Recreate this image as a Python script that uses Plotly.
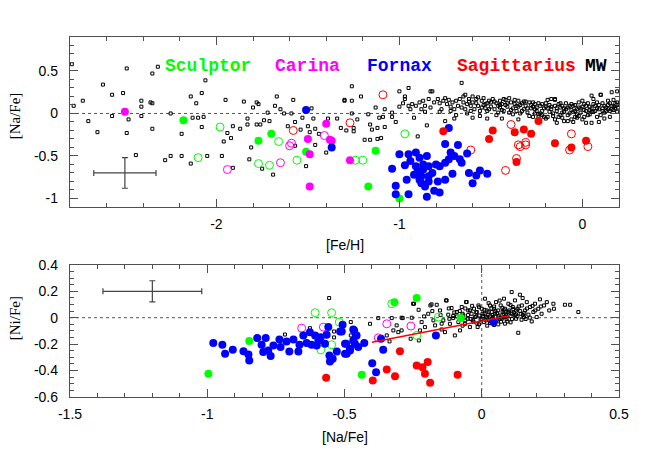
import plotly.graph_objects as go

# ---------------- TOP PANEL DATA: [Na/Fe] vs [Fe/H] ----------------
mw_top = [(-2.79,0.58),(-2.78,0.09),(-2.73,0.15),(-2.70,-0.09),(-2.65,-0.22),(-2.62,0.34),(-2.57,0.22),(-2.57,-0.03),
(-2.51,0.24),(-2.49,0.53),(-2.49,-0.23),(-2.48,-0.07),(-2.44,-0.49),(-2.41,0.15),(-2.41,0.08),(-2.41,-0.03),(-2.36,0.13),
(-2.35,0.12),(-2.35,0.47),(-2.35,-0.18),(-2.32,0.55),(-2.28,-0.55),(-2.25,0.0),(-2.25,-0.50),(-2.19,-0.24),(-2.19,-0.50),
(-2.14,0.20),(-2.14,-0.59),(-2.13,-0.05),(-2.11,0.12),(-2.10,-0.05),(-2.08,0.24),(-2.08,-0.16),(-2.07,-0.04),(-2.06,0.39),
(-2.05,-0.50),(-1.97,-0.50),(-1.96,-0.33),(-1.95,0.16),(-1.94,-0.23),(-1.92,-0.29),(-1.91,-0.15),(-1.91,-0.64),(-1.87,-0.18),
(-1.85,0.14),(-1.83,-0.06),(-1.83,-0.13),(-1.82,-0.54),(-1.81,-0.40),(-1.80,0.07),(-1.78,-0.13),(-1.78,0.13),(-1.77,0.11),
(-1.76,-0.13),(-1.75,-0.65),(-1.74,-0.08),(-1.72,0.01),(-1.71,-0.09),(-1.69,-0.72),(-1.68,0.09),(-1.67,0.20),(-1.65,0.05),
(-1.63,0.0),(-1.61,-0.15),(-1.59,0.0),(-1.58,0.16),(-1.57,-0.10),(-1.57,-0.38),(-1.54,-0.19),(-1.53,-0.05),(-1.51,-0.62),
(-1.50,-0.15),(-1.49,-0.22),(-1.48,0.06),(-1.47,-0.06),(-1.46,-0.37),(-1.46,-0.18),(-1.44,-0.24),(-1.40,-0.46),(-1.39,-0.06),
(-1.34,-0.06),(-1.32,-0.17),(-1.30,0.15),(-1.29,-0.20),(-1.26,0.32),(-1.26,0.15),(-1.26,0.0),(-1.25,-0.21),
(-1.30,0.16),(-1.25,-0.17),(-1.23,-0.07),(-1.21,0.20),(-1.17,-0.01),(-1.16,-0.13),(-1.15,-0.19),(-1.19,-0.31),(-1.16,-0.31),
(-1.12,-0.30),(-1.10,-0.29),(-1.13,0.07),(-1.11,-0.05),(-1.09,-0.04),(-1.08,0.05),(-1.12,-0.17),(-1.08,-0.16),(-1.04,-0.04),
(-1.04,0.01),(-1.00,0.26),(-1.00,0.08),(-0.97,0.20),(-0.97,0.17),(-0.95,0.09),(-0.95,0.30),(-0.94,0.05),(-0.93,0.11),
(-0.91,0.09),(-0.90,-0.27),(-0.89,0.13),(-0.88,0.05),(-0.87,0.15),(-0.86,0.09),(-0.85,-0.14),(-0.84,0.17),(-0.83,0.26),
(-0.83,0.07),(-0.81,0.13),(-0.79,0.17),(-0.78,0.12),(-0.77,0.05),(-0.76,0.15),(-0.75,-0.09),(-0.75,0.18),(-0.74,0.11),
(-0.73,0.16),(-0.72,0.03),(-0.71,0.13),(-0.70,0.05),(-0.69,0.15),(-0.68,0.09),(-0.67,0.17),(-0.66,0.36),(-0.66,0.07),
(-0.65,0.20),(-0.65,0.13),(-0.64,0.05),(-0.64,0.22),(-0.63,0.11),(-0.62,0.17),(-0.61,0.03),(-0.61,0.09),(-0.60,0.20),
(-0.60,0.13),(-0.59,0.05),(-0.58,0.17),(-0.57,0.09),(-0.56,0.03),(-0.55,0.15),(-0.55,0.07),(-0.54,0.18),(-0.53,0.11),
(-0.52,0.03),(-0.51,0.15),(-0.50,0.08),(-0.49,0.17),(-0.48,0.05),(-0.47,0.12),(-0.46,0.01),(-0.45,0.15),(-0.45,0.07),
(-0.44,0.11),(-0.43,0.03),(-0.42,0.16),(-0.41,0.08),(-0.40,0.01),(-0.39,0.13),(-0.38,0.06),(-0.37,0.11),(-0.36,0.03),
(-0.35,0.15),(-0.35,0.08),(-0.34,0.0),(-0.33,0.12),(-0.32,0.05),(-0.31,0.09),(-0.30,0.01),(-0.29,0.13),(-0.28,0.06),
(-0.27,-0.04),(-0.26,0.11),(-0.25,0.03),(-0.25,0.07),(-0.24,-0.01),(-0.23,0.09),(-0.22,0.03),(-0.21,-0.04),(-0.20,0.08),
(-0.19,0.16),(-0.18,0.02),(-0.17,0.05),(-0.16,-0.03),(-0.15,0.09),(-0.15,0.16),(-0.14,0.03),(-0.13,-0.04),(-0.12,0.07),
(-0.11,0.01),(-0.10,-0.09),(-0.09,0.05),(-0.08,-0.02),(-0.07,0.09),(-0.06,-0.07),(-0.05,0.02),(-0.05,0.09),(-0.04,-0.04),
(-0.03,0.05),(-0.02,0.13),(-0.01,0.01),(0.0,0.08),(0.01,-0.04),(0.02,0.03),(0.03,0.12),(0.04,-0.01),(0.05,0.06),
(0.06,0.17),(0.06,0.02),(0.07,0.09),(0.08,-0.04),(0.09,0.05),(0.10,0.22),(0.11,0.12),(0.12,0.01),(0.13,0.07),(0.14,0.15),
(0.15,0.03),(0.16,0.09),(0.16,0.05),(0.17,0.16),(0.18,0.09),(0.19,0.26),(0.19,0.13),
(-0.82,0.26),(-0.15,-0.07),(-0.14,-0.11),(-0.08,-0.09),(-0.05,-0.10),(-0.03,-0.05),(0.02,-0.11),(0.05,-0.11),(0.09,-0.10),
(-0.19,-0.04),(-0.24,-0.04),(0.05,0.21),(0.10,0.22),(0.16,0.25),(-0.15,0.17),(-0.17,0.17),(0.0,0.15),
(-0.78,0.02),(-0.72,0.08),(-0.69,-0.02),(-0.63,0.0),(-0.58,0.12),(-0.56,-0.03),(-0.53,0.06),(-0.50,0.13),(-0.47,-0.02),
(-0.44,0.04),(-0.42,0.10),(-0.40,0.18),(-0.38,-0.01),(-0.36,0.09),(-0.33,0.03),(-0.31,0.14),(-0.29,-0.03),(-0.27,0.08),
(-0.24,0.12),(-0.22,-0.02),(-0.21,0.06),(-0.18,0.10),(-0.16,0.0),(-0.13,0.11),(-0.12,-0.02),(-0.10,0.06),(-0.09,0.12),
(-0.07,0.0),(-0.06,0.04),(-0.04,0.10),(-0.02,-0.03),(-0.01,0.06),(0.01,0.11),(0.03,-0.02),(0.04,0.08),(0.07,0.03),
(0.08,0.13),(0.10,-0.02),(0.11,0.06),(0.13,0.03),(0.14,0.10),(0.17,0.04),(0.18,0.12),(-0.86,0.02),(-0.92,-0.05),
(-0.98,0.12),(-1.02,-0.10),(-0.70,-0.06),(-0.60,-0.05),(-0.52,-0.06),(-0.44,-0.06),(-0.35,-0.07),(-0.26,0.0),(-0.20,-0.06),
(-0.11,-0.05),(0.00,-0.07),(0.12,-0.06),(0.15,-0.04),(0.19,0.02),(0.195,0.07),
(-0.62,0.14),(-0.57,0.19),(-0.54,0.10),(-0.51,0.05),(-0.48,0.14),(-0.46,0.09),(-0.43,0.17),(-0.41,0.12),(-0.39,0.04),
(-0.37,0.16),(-0.34,0.10),(-0.32,0.14),(-0.30,0.06),(-0.28,0.10),(-0.26,0.05),(-0.23,0.00),(-0.22,0.11),(-0.19,0.06),
(-0.17,0.08),(-0.14,0.06),(-0.12,0.12),(-0.10,0.02),(-0.08,0.07),(-0.06,0.11),(-0.04,0.03),(-0.02,0.07),(0.01,0.04),
(0.02,0.09),(0.05,0.02),(0.06,0.11),(0.08,0.06),(0.09,0.10),(0.11,0.03),(0.12,0.09),(0.14,0.05),(0.15,0.12),(0.17,0.08),
(0.18,0.06),(0.19,0.10),(-0.03,-0.01),(0.04,0.04),(-0.11,0.09),(-0.20,0.12),(-0.27,0.13),(-0.45,0.10),(-0.52,0.12)]

scl_fill_top = [(-2.18,-0.08),(-1.77,-0.32),(-1.70,-0.24),(-1.51,-0.45),(-1.13,-0.44),(-1.17,-0.86),(-1.00,-1.00)]
scl_open_top = [(-1.98,-0.16),(-2.10,-0.52),(-1.77,-0.59),(-1.71,-0.61),(-1.66,-0.33),(-1.56,-0.55),(-1.24,-0.55),
                (-1.20,-0.55),(-0.97,-0.24)]
car_fill_top = [(-2.50,0.02),(-1.50,-0.30),(-1.49,-0.48),(-1.49,-0.86),(-1.40,-0.12),(-1.38,-0.31),(-1.37,-0.32),(-1.27,-0.55)]
car_open_top = [(-1.94,-0.66),(-1.60,-0.38),(-1.59,-0.35),(-1.65,-0.58),(-1.41,-0.26)]
for_fill_top = [(-1.51,0.04),(-1.37,-0.40),(-0.73,-0.17),(-0.75,-0.36),(-0.68,-0.37),
(-1.00,-0.48),(-0.95,-0.48),(-0.91,-0.46),(-0.89,-0.52),(-0.85,-0.50),(-0.94,-0.56),(-0.97,-0.61),(-1.04,-0.65),
(-0.91,-0.62),(-0.87,-0.60),(-0.84,-0.62),(-0.80,-0.60),(-0.78,-0.62),(-0.75,-0.58),(-0.72,-0.46),(-0.70,-0.50),
(-0.73,-0.54),(-0.67,-0.54),(-0.66,-0.58),(-0.63,-0.47),(-0.62,-0.70),(-0.58,-0.73),(-0.56,-0.67),(-0.52,-0.71),
(-0.60,-0.82),(-1.02,-0.85),(-1.02,-0.95),(-0.95,-0.95),(-0.85,-0.98),(-0.78,-0.93),(-0.81,-0.91),(-0.79,-0.80),
(-0.75,-0.78),(-0.71,-0.71),(-0.88,-0.74),(-0.88,-0.82),(-0.86,-0.86),(-0.89,-0.78),(-0.92,-0.72),(-0.96,-0.78),
(-0.84,-0.80),(-0.87,-0.66),(-0.82,-0.70),(-0.90,-0.68),(-0.84,-0.74)]
sgr_fill_top = [(-0.76,-0.21),(-0.49,-0.20),(-0.51,-0.30),(-0.37,-0.22),(-0.32,-0.19),(-0.28,-0.24),(-0.24,-0.09),
                (-0.36,-0.57),(-0.15,-0.35),(-0.06,-0.40),(0.02,-0.32)]
sgr_open_top = [(-1.58,-0.20),(-1.27,-0.11),(-1.09,0.22),(-0.61,-0.43),(-0.39,-0.13),(-0.35,-0.37),(-0.34,-0.39),
                (-0.31,-0.34),(-0.31,-0.37),(-0.36,-0.53),(-0.42,-0.67),(-0.06,-0.24),(-0.07,-0.43),(0.03,-0.39)]

# ---------------- BOTTOM PANEL DATA: [Ni/Fe] vs [Na/Fe] ----------------
mw_bot = [(-0.556,0.149),(-0.626,-0.079),(-0.717,-0.127),(-0.538,-0.104),(-0.538,-0.149),(-0.477,-0.033),(-0.477,-0.134),
(-0.407,-0.046),(-0.377,-0.003),(-0.328,-0.003),(-0.322,-0.096),(-0.346,-0.134),(-0.336,-0.179),(-0.304,-0.109),
(-0.292,-0.096),(-0.31,-0.058),(-0.288,-0.003),(-0.259,-0.159),(-0.247,0.106),(-0.229,-0.172),(-0.225,-0.096),
(-0.219,-0.033),(-0.207,-0.071),(-0.195,0.03),(-0.187,0.093),(-0.176,-0.02),(-0.17,-0.058),(-0.164,0.098),(-0.152,0.055),
(-0.146,-0.089),(-0.14,-0.02),(-0.13,0.131),(-0.134,-0.109),(-0.122,0.023),(-0.116,-0.046),(-0.11,0.073),(-0.104,-0.003),
(-0.098,-0.134),(-0.091,0.043),(-0.085,-0.033),(-0.079,-0.096),(-0.073,0.081),(-0.067,0.017),(-0.061,-0.046),(-0.057,0.118),
(-0.052,-0.008),(-0.049,0.055),(-0.043,-0.071),(-0.037,0.03),(-0.033,-0.02),(-0.028,0.068),(-0.025,0.005),(-0.018,0.043),
(-0.016,-0.046),(-0.012,0.093),(-0.009,0.017),(-0.004,-0.013),(0.0,0.068),(0.003,0.03),(0.008,-0.033),(0.012,0.144),
(0.015,0.005),(0.018,0.055),(0.024,0.023),(0.028,-0.02),(0.03,0.093),(0.036,0.043),(0.04,0.005),(0.045,0.068),(0.048,0.03),
(0.052,0.118),(0.054,-0.02),(0.06,0.055),(0.064,0.017),(0.069,0.093),(0.073,-0.008),(0.076,0.043),(0.081,0.144),(0.085,0.068),
(0.088,0.023),(0.093,-0.028),(0.097,0.106),(0.10,0.055),(0.105,0.012),(0.109,0.194),(0.113,0.081),(0.117,0.038),(0.121,0.131),
(0.125,-0.008),(0.13,0.068),(0.133,-0.114),(0.139,0.174),(0.142,0.03),(0.146,0.093),(0.149,0.149),(0.154,0.005),(0.158,0.055),
(0.164,0.118),(0.17,0.023),(0.176,0.081),(0.182,-0.028),(0.188,0.043),(0.194,0.106),(0.20,0.005),(0.206,0.068),(0.212,0.139),
(0.218,0.03),(0.227,0.093),(0.237,0.118),(0.246,0.055),(0.261,0.106),(0.263,0.068),(0.303,0.098),(0.322,0.098),(0.352,0.043),
(-0.292,0.0),(-0.255,0.0),(-0.25,0.106),(-0.183,0.101),(-0.128,0.131),(-0.118,-0.008),(-0.104,0.013),(-0.146,-0.045),
(-0.055,0.119),(-0.043,0.056),(0.0,-0.01),(0.02,0.0),(0.05,-0.03),(0.07,0.0),(0.04,0.02),(0.06,-0.05),(-0.02,0.01),
(0.03,-0.04),(0.09,0.01),(0.11,-0.01),(0.08,0.03),(0.01,0.03),(-0.03,-0.03),(0.05,0.05),(0.10,0.04),(0.12,0.02),
(0.02,-0.06),(0.07,-0.03),(-0.01,-0.05),(0.04,-0.01),(0.06,0.01),(0.09,-0.01),(0.03,0.01),(0.11,0.03),(-0.05,0.02),
(0.13,0.01),(0.15,0.02),(0.01,0.06),(0.08,0.06),(-0.07,0.03),(0.14,0.05),(0.16,-0.01),(-0.06,-0.02),(0.035,0.07),
(-0.09,0.01),(-0.08,0.05),(-0.06,0.07),(-0.04,-0.01),(-0.02,0.04),(-0.01,0.08),(0.005,0.015),(0.015,-0.02),(0.025,0.045),
(0.035,-0.025),(0.045,0.085),(0.055,0.035),(0.065,-0.01),(0.075,0.075),(0.085,0.005),(0.095,0.045),(0.105,-0.035),
(0.115,0.065),(0.125,0.025),(0.135,0.085),(0.145,-0.015),(0.155,0.035),(0.165,0.07),(0.175,0.0),(0.185,0.09),
(-0.035,0.09),(-0.015,-0.07),(0.025,0.11),(0.045,-0.055),(0.065,0.13),(0.085,-0.045),(0.105,0.095),(0.125,0.055),
(-0.07,-0.06),(-0.10,0.04),(-0.12,0.07),(-0.15,0.02),(-0.18,0.05),(-0.21,0.01),(-0.23,0.06),(0.195,0.055),(0.215,0.085)]

scl_fill_bot = [(-0.996,-0.424),(-0.847,-0.177),(-0.318,0.118),(-0.237,0.149),(-0.077,-0.003),(-0.437,-0.432)]
scl_open_bot = [(-0.607,0.038),(-0.547,0.038),(-0.519,-0.033),(-0.586,-0.243),(-0.547,-0.205),(-0.328,0.106),
                (-0.158,0.005),(-0.237,-0.134)]
car_open_bot = [(-0.656,-0.079),(-0.577,-0.071),(-0.346,-0.046),(-0.258,-0.063),(-0.377,-0.152)]
for_fill_bot = [(-0.978,-0.192),(-0.945,-0.205),(-0.935,-0.273),(-0.907,-0.243),(-0.868,-0.253),(-0.85,-0.278),
(-0.847,-0.323),(-0.818,-0.154),(-0.787,-0.154),(-0.802,-0.205),(-0.796,-0.26),(-0.778,-0.248),(-0.769,-0.29),
(-0.759,-0.21),(-0.737,-0.164),(-0.733,-0.222),(-0.711,-0.179),(-0.701,-0.255),(-0.686,-0.164),(-0.668,-0.255),
(-0.664,-0.205),(-0.65,-0.134),(-0.638,-0.192),(-0.626,-0.109),(-0.62,-0.205),(-0.607,-0.134),(-0.601,-0.21),
(-0.595,-0.172),(-0.587,-0.147),(-0.571,-0.197),(-0.565,-0.129),(-0.559,-0.071),(-0.555,-0.285),(-0.553,-0.331),
(-0.543,-0.311),(-0.528,-0.255),(-0.516,-0.104),(-0.507,-0.053),(-0.494,-0.197),(-0.492,-0.273),(-0.48,-0.248),
(-0.468,-0.089),(-0.462,-0.197),(-0.456,-0.134),(-0.45,-0.222),(-0.51,-0.104),(-0.465,-0.096),(-0.458,-0.134),
(-0.468,-0.172),(-0.498,-0.197),(-0.48,-0.235),(-0.498,-0.273),(-0.428,-0.192),(-0.367,-0.159),(-0.359,-0.243),
(-0.399,-0.344),(-0.385,-0.412),(-0.167,-0.134),(0.042,-0.033)]
sgr_fill_bot = [(-0.567,-0.455),(-0.298,-0.253),(-0.397,-0.475),(-0.346,-0.392),(-0.316,-0.442),(-0.237,-0.361),
                (-0.216,-0.374),(-0.197,-0.336),(-0.207,-0.424),(-0.188,-0.493),(-0.088,-0.432)]
fit_line = [(-0.40,-0.185),(0.10,0.015)]

# error bars (x, y, xerr, yerr)
err_top = (-2.5, -0.70, 0.17, 0.18)
err_bot = (-1.2, 0.20, 0.18, 0.08)

# legend labels
labels = ["Sculptor", "Carina", "Fornax", "Sagittarius", "MW"]
label_x = [-2.293, -1.693, -1.19, -0.694, 0.004]

GREEN, MAG, BLUE, RED = "#00ff00", "#ff00ff", "#0000ff", "#ff0000"
AX = "#505050"

def xs(p): return [a for a, b in p]
def ys(p): return [b for a, b in p]

fig = go.Figure()

def add(pts, xa, ya, color, kind):
    if kind == "mw":
        m = dict(symbol="square-open", size=3, color="black", line=dict(width=1, color="black"))
    elif kind == "fill":
        m = dict(symbol="circle", size=8, color=color, line=dict(width=0))
    else:
        m = dict(symbol="circle-open", size=8, color=color, line=dict(width=1, color=color))
    fig.add_trace(go.Scatter(x=xs(pts), y=ys(pts), mode="markers", marker=m,
                             xaxis=xa, yaxis=ya, showlegend=False, hoverinfo="skip"))

add(mw_top, "x", "y", "black", "mw")
add(scl_open_top, "x", "y", GREEN, "open")
add(car_open_top, "x", "y", MAG, "open")
add(sgr_open_top, "x", "y", RED, "open")
add(scl_fill_top, "x", "y", GREEN, "fill")
add(car_fill_top, "x", "y", MAG, "fill")
add(for_fill_top, "x", "y", BLUE, "fill")
add(sgr_fill_top, "x", "y", RED, "fill")

add(mw_bot, "x2", "y2", "black", "mw")
add(scl_open_bot, "x2", "y2", GREEN, "open")
add(car_open_bot, "x2", "y2", MAG, "open")
add(for_fill_bot, "x2", "y2", BLUE, "fill")
add(scl_fill_bot, "x2", "y2", GREEN, "fill")
add(sgr_fill_bot, "x2", "y2", RED, "fill")

fig.add_trace(go.Scatter(x=xs(fit_line), y=ys(fit_line), mode="lines", line=dict(color=RED, width=1.5),
                         xaxis="x2", yaxis="y2", showlegend=False, hoverinfo="skip"))

for (ex, ey, dx, dy), xa, ya in [(err_top, "x", "y"), (err_bot, "x2", "y2")]:
    fig.add_trace(go.Scatter(x=[ex], y=[ey], mode="markers", marker=dict(size=1, color="rgba(0,0,0,0)"),
                             error_x=dict(type="data", array=[dx], color="#444", thickness=1.2, width=3),
                             error_y=dict(type="data", array=[dy], color="#444", thickness=1.2, width=3),
                             xaxis=xa, yaxis=ya, showlegend=False, hoverinfo="skip"))

dot = dict(color="#555", width=1, dash="dot")
fig.add_shape(type="line", xref="x", yref="y", x0=-2.8, x1=0.2, y0=0, y1=0, line=dot, layer="below")
fig.add_shape(type="line", xref="x2", yref="y2", x0=-1.5, x1=0.5, y0=0, y1=0, line=dot, layer="below")
fig.add_shape(type="line", xref="x2", yref="y2", x0=0, x1=0, y0=-0.6, y1=0.4, line=dot, layer="below")

colors = [GREEN, MAG, BLUE, RED, "black"]
for t, lx, c in zip(labels, label_x, colors):
    fig.add_annotation(x=lx, y=0.553, xref="x", yref="y", text=t, showarrow=False, xanchor="left", yanchor="middle",
                       font=dict(family="Liberation Mono", size=18, color=c, weight="bold"))

def axstyle(**kw):
    d = dict(showline=True, linecolor=AX, linewidth=1.3, mirror="ticks", ticks="inside", ticklen=8,
             tickcolor=AX, tickwidth=1, showgrid=False, zeroline=False,
             tickfont=dict(family="Liberation Sans", size=14, color="black"))
    d.update(kw)
    return d

fig.update_layout(
    width=654, height=460, margin=dict(l=70, r=35, t=37, b=63),
    paper_bgcolor="white", plot_bgcolor="white", showlegend=False,
    xaxis=axstyle(domain=[0, 1], anchor="y", range=[-2.8, 0.2], tickvals=[-2, -1, 0], ticktext=["-2", "-1", "0"],
                  minor=dict(dtick=0.2, tick0=0, ticklen=4, ticks="inside", tickcolor=AX), ticklabelstandoff=4),
    yaxis=axstyle(domain=[0.528, 1], anchor="x", range=[-1.1, 0.9], tickvals=[-1, -0.5, 0, 0.5],
                  ticktext=["-1", "-0.5", "0", "0.5"],
                  minor=dict(dtick=0.1, tick0=0, ticklen=4, ticks="inside", tickcolor=AX), ticklabelstandoff=8),
    xaxis2=axstyle(domain=[0, 1], anchor="y2", range=[-1.5, 0.5], tickvals=[-1.5, -1, -0.5, 0, 0.5],
                   ticktext=["-1.5", "-1", "-0.5", "0", "0.5"],
                   minor=dict(dtick=0.1, tick0=0, ticklen=4, ticks="inside", tickcolor=AX), ticklabelstandoff=4),
    yaxis2=axstyle(domain=[0, 0.367], anchor="x2", range=[-0.6, 0.4], tickvals=[-0.6, -0.4, -0.2, 0, 0.2, 0.4],
                   ticktext=["-0.6", "-0.4", "-0.2", "0", "0.2", "0.4"],
                   minor=dict(dtick=0.05, tick0=0, ticklen=4, ticks="inside", tickcolor=AX), ticklabelstandoff=8),
)

# axis titles
fig.add_annotation(x=0.5, y=0.422, xref="paper", yref="paper", text="[Fe/H]", showarrow=False,
                   xanchor="center", yanchor="middle", font=dict(family="Liberation Sans", size=14, color="black"))
fig.add_annotation(x=0.5, y=-0.111, xref="paper", yref="paper", text="[Na/Fe]", showarrow=False,
                   xanchor="center", yanchor="middle", font=dict(family="Liberation Sans", size=14, color="black"))
fig.add_annotation(x=-0.1, y=0.78, xref="paper", yref="paper", text="[Na/Fe]", showarrow=False, textangle=-90,
                   xanchor="center", yanchor="middle", font=dict(family="Liberation Serif", size=15, color="black"))
fig.add_annotation(x=-0.1, y=0.219, xref="paper", yref="paper", text="[Ni/Fe]", showarrow=False, textangle=-90,
                   xanchor="center", yanchor="middle", font=dict(family="Liberation Serif", size=15, color="black"))

fig.write_html("out.html", config={"displayModeBar": False},
               post_script="document.body.style.margin='0px';")
